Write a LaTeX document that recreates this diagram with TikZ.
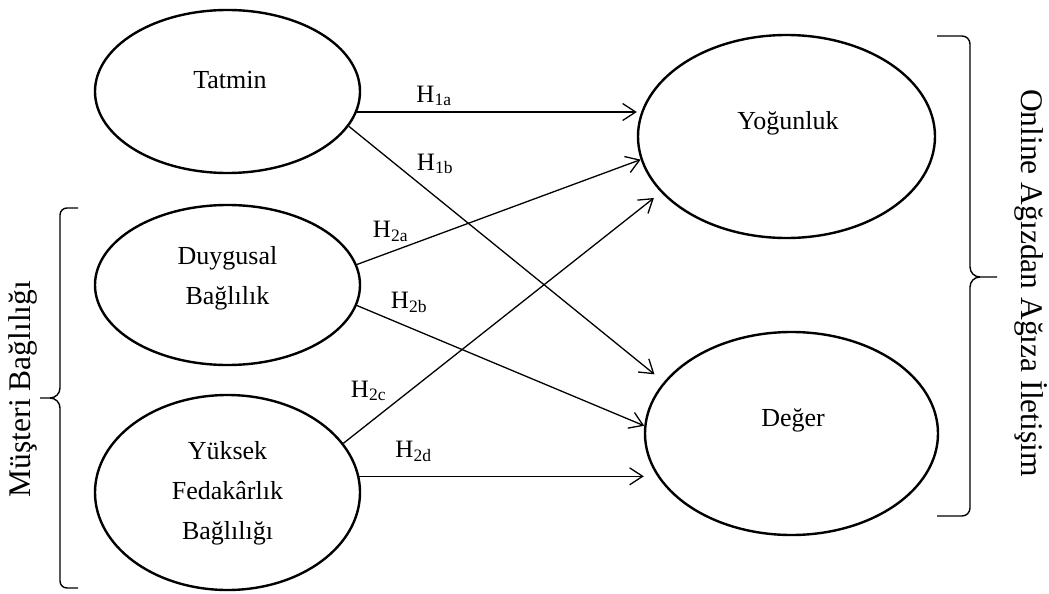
\documentclass[tikz,border=0pt]{standalone}
\usepackage{fontspec}
\setmainfont{Liberation Serif}
\usetikzlibrary{shapes.geometric,arrows.meta}

\tikzset{
  konstrukt/.style={draw, ellipse, line width=2.4pt, inner sep=0pt},
  yazi/.style={font=\fontsize{26}{40}\selectfont, align=center},
  hipotez/.style={font=\fontsize{25}{30}\selectfont},
  yol/.style={line width=1.3pt, -{Straight Barb[length=13pt,width=17pt,line width=1.3pt]}},
  parantez/.style={line width=1.4pt},
  baslik/.style={font=\fontsize{31.5}{36}\selectfont}
}

\begin{document}
\begin{tikzpicture}[x=1pt,y=-1pt]
\useasboundingbox (0,0) rectangle (1049,594);
% constructs
\node[konstrukt, minimum width=265pt, minimum height=163pt] (tat) at (227.5,91.5) {};
\node[konstrukt, minimum width=265pt, minimum height=160pt] (duy) at (227.5,285) {};
\node[konstrukt, minimum width=265pt, minimum height=195pt] (yuk) at (227.5,492.5) {};
\node[konstrukt, minimum width=297pt, minimum height=203pt] (yog) at (786.5,136.5) {};
\node[konstrukt, minimum width=293pt, minimum height=203pt] (deg) at (791.5,433.5) {};
\node[yazi] (tattxt) at (230,80) {Tatmin};
\node[yazi] (duytxt) at (227.5,278) {Duygusal\\Bağlılık};
\node[yazi] (yuktxt) at (227.5,493) {Yüksek\\Fedakârlık\\Bağlılığı};
\node[yazi] (yogtxt) at (788,123) {Yoğunluk};
\node[yazi] (degtxt) at (793,420) {Değer};
% hypotheses
\draw[yol] (tat.-9) -- (tat.-9 -| yog.west);
\draw[yol, shorten >=12pt] (tat.-16.6) -- (deg.158.25);
\draw[yol] (duy.9.85) -- (yog.189);
\draw[yol] (duy.-9.43) -- (deg.177.5);
\draw[yol, shorten >=9pt] (yuk.23.7) -- (yog.204.2);
\draw[yol] (yuk.7) -- (yuk.7 -| deg.west);
\node[hipotez] (h1a) at (434,96) {H\textsubscript{1a}};
\node[hipotez] (h1b) at (435,164) {H\textsubscript{1b}};
\node[hipotez] (h2a) at (390.5,231.5) {H\textsubscript{2a}};
\node[hipotez] (h2b) at (409,302.5) {H\textsubscript{2b}};
\node[hipotez] (h2c) at (368.5,391) {H\textsubscript{2c}};
\node[hipotez] (h2d) at (413.5,451.5) {H\textsubscript{2d}};
% braces
\draw[parantez] (78,208) -- (67,208) to[out=180,in=90] (60,215) -- (60,388)
  to[out=-90,in=0] (50,398) -- (40,398) (50,398) to[out=0,in=90] (60,408)
  -- (60,581) to[out=-90,in=180] (67,588) -- (78,588);
\draw[parantez] (937,36) -- (962,36) to[out=0,in=90] (970,44) -- (970,267)
  to[out=-90,in=180] (980,277) -- (997,277) (980,277) to[out=180,in=90] (970,287)
  -- (970,508) to[out=-90,in=0] (962,516) -- (937,516);
\node[baslik, rotate=90] (musteri) at (23,389) {Müşteri Bağlılığı};
\node[baslik, rotate=-90] (online) at (1031,283) {Online Ağızdan Ağıza İletişim};
\end{tikzpicture}
\end{document}
